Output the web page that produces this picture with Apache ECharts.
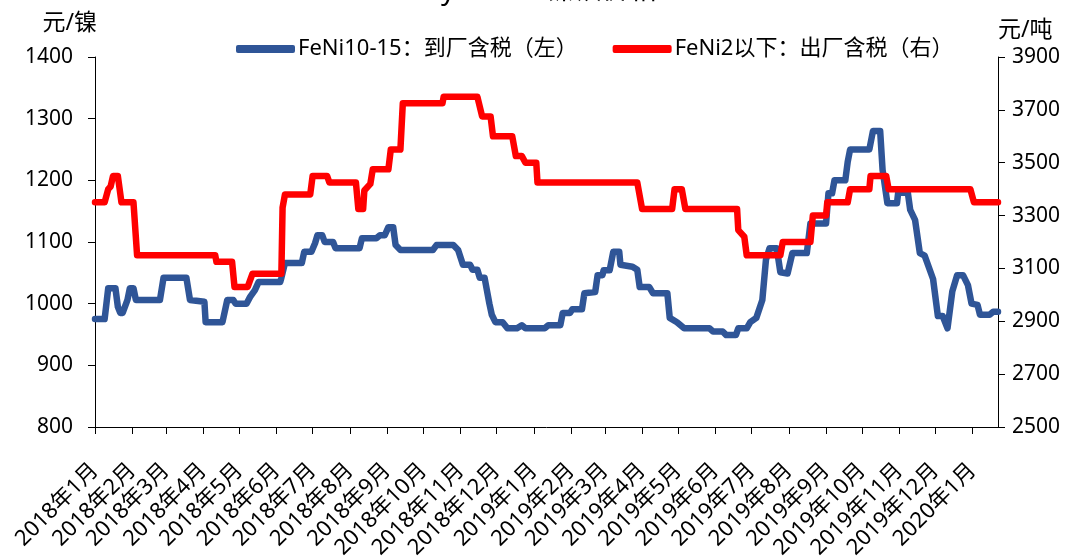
<!DOCTYPE html>
<html>
<head>
<meta charset="utf-8">
<script src="https://cdn.jsdelivr.net/npm/echarts@6/dist/echarts.min.js"></script>
<style>
html,body{margin:0;padding:0;background:#fff;}
#c{width:1073px;height:556px;}
</style>
</head>
<body>
<div id="c"></div>
<script>
// ---- data ----
const titleText = 'Mysteel：镍铁价格';
const blueName = 'FeNi10-15：到厂含税（左）';
const redName = 'FeNi2以下：出厂含税（右）';

const blueDates = ['2018-01-01','2018-01-09','2018-01-12','2018-01-18','2018-01-20','2018-01-22','2018-01-24','2018-01-28','2018-01-30','2018-02-02','2018-02-04','2018-02-24','2018-02-27','2018-03-18','2018-03-21','2018-04-02','2018-04-03','2018-04-17','2018-04-21','2018-04-26','2018-04-28','2018-05-07','2018-05-10','2018-05-14','2018-05-17','2018-06-04','2018-06-05','2018-06-08','2018-06-22','2018-06-24','2018-06-30','2018-07-03','2018-07-05','2018-07-09','2018-07-11','2018-07-18','2018-07-20','2018-08-09','2018-08-11','2018-08-23','2018-08-26','2018-08-30','2018-09-02','2018-09-06','2018-09-08','2018-09-12','2018-10-09','2018-10-12','2018-10-26','2018-10-30','2018-11-03','2018-11-09','2018-11-11','2018-11-15','2018-11-17','2018-11-21','2018-11-25','2018-11-27','2018-11-30','2018-12-06','2018-12-10','2018-12-18','2018-12-22','2018-12-25','2019-01-10','2019-01-13','2019-01-23','2019-01-25','2019-01-31','2019-02-02','2019-02-10','2019-02-12','2019-02-21','2019-02-23','2019-02-27','2019-02-28','2019-03-05','2019-03-08','2019-03-13','2019-03-14','2019-03-24','2019-03-28','2019-03-30','2019-04-07','2019-04-10','2019-04-22','2019-04-24','2019-04-30','2019-05-06','2019-05-27','2019-05-30','2019-06-07','2019-06-10','2019-06-18','2019-06-20','2019-06-27','2019-06-30','2019-07-05','2019-07-10','2019-07-13','2019-07-16','2019-07-22','2019-07-25','2019-07-31','2019-08-04','2019-08-16','2019-08-19','2019-09-01','2019-09-03','2019-09-06','2019-09-08','2019-09-17','2019-09-19','2019-09-21','2019-10-07','2019-10-10','2019-10-16','2019-10-18','2019-10-22','2019-10-30','2019-10-31','2019-11-08','2019-11-10','2019-11-14','2019-11-18','2019-11-22','2019-11-29','2019-12-03','2019-12-07','2019-12-11','2019-12-15','2019-12-19','2019-12-24','2019-12-28','2019-12-31','2020-01-05','2020-01-07','2020-01-15','2020-01-18','2020-01-22'];
const blueValues = [975,975,1025,1025,995,985,985,1006,1025,1025,1006,1006,1042,1042,1006,1003,970,970,1006,1006,1000,1000,1011,1022,1035,1035,1042,1066,1066,1084,1084,1098,1111,1111,1100,1100,1090,1090,1106,1106,1111,1111,1124,1124,1095,1087,1087,1095,1095,1087,1063,1063,1055,1055,1042,1042,1000,982,970,970,960,960,965,960,960,965,965,985,985,991,991,1017,1019,1046,1046,1054,1054,1084,1084,1063,1060,1055,1027,1027,1017,1017,977,970,960,960,955,955,949,949,960,960,970,977,1006,1071,1090,1090,1051,1049,1082,1082,1130,1130,1179,1179,1200,1200,1230,1250,1250,1280,1280,1217,1163,1163,1180,1180,1152,1136,1082,1078,1040,980,980,960,1020,1046,1046,1030,1000,998,982,982,987,987];

const redDates = ['2018-01-01','2018-01-09','2018-01-12','2018-01-14','2018-01-16','2018-01-20','2018-01-23','2018-02-02','2018-02-05','2018-04-11','2018-04-12','2018-04-25','2018-04-27','2018-05-08','2018-05-12','2018-06-05','2018-06-06','2018-06-08','2018-06-29','2018-07-01','2018-07-13','2018-07-15','2018-08-06','2018-08-08','2018-08-12','2018-08-13','2018-08-18','2018-08-20','2018-09-02','2018-09-04','2018-09-12','2018-09-14','2018-10-17','2018-10-18','2018-11-15','2018-11-19','2018-11-26','2018-11-28','2018-12-14','2018-12-17','2018-12-22','2018-12-25','2019-01-03','2019-01-04','2019-03-28','2019-04-01','2019-04-26','2019-04-28','2019-05-04','2019-05-07','2019-06-19','2019-06-20','2019-06-25','2019-06-27','2019-07-25','2019-07-27','2019-08-19','2019-08-21','2019-09-01','2019-09-02','2019-09-19','2019-09-21','2019-10-07','2019-10-08','2019-10-21','2019-10-23','2019-12-30','2020-01-02','2020-01-22'];
const redValues = [3350,3350,3400,3410,3450,3450,3350,3350,3150,3150,3125,3125,3030,3030,3080,3080,3330,3380,3380,3450,3450,3425,3425,3325,3325,3395,3420,3475,3475,3550,3550,3725,3725,3750,3750,3675,3675,3600,3600,3525,3525,3500,3500,3425,3425,3325,3325,3400,3400,3325,3325,3245,3220,3150,3150,3200,3200,3300,3300,3350,3350,3400,3400,3450,3450,3400,3400,3350,3350];

const tickDates = ['2018-01-01','2018-02-01','2018-03-01','2018-04-01','2018-05-01','2018-06-01','2018-07-01','2018-08-01','2018-09-01','2018-10-01','2018-11-01','2018-12-01','2019-01-01','2019-02-01','2019-03-01','2019-04-01','2019-05-01','2019-06-01','2019-07-01','2019-08-01','2019-09-01','2019-10-01','2019-11-01','2019-12-01','2020-01-01'];
const tickLabels = ['2018年1月','2018年2月','2018年3月','2018年4月','2018年5月','2018年6月','2018年7月','2018年8月','2018年9月','2018年10月','2018年11月','2018年12月','2019年1月','2019年2月','2019年3月','2019年4月','2019年5月','2019年6月','2019年7月','2019年8月','2019年9月','2019年10月','2019年11月','2019年12月','2020年1月'];
const xStart = '2018-01-01';
const xEnd = '2020-01-22';

// ---- chart ----
function ts(s){ return Date.UTC(+s.slice(0,4), +s.slice(5,7)-1, +s.slice(8,10)); }
const tickTimes = tickDates.map(ts);
const FONT = "'Noto Sans','Noto Sans CJK SC',sans-serif";
const blueData = blueDates.map((d,i)=>[ts(d), blueValues[i]]);
const redData = redDates.map((d,i)=>[ts(d), redValues[i]]);
const plain = v => String(v);

const chart = echarts.init(document.getElementById('c'), null, {renderer:'canvas'});
chart.setOption({
  backgroundColor:'#fff',
  animation:false,
  textStyle:{fontFamily:FONT},
  title:{text:titleText,left:'center',top:-28,textStyle:{fontSize:28,fontWeight:'normal',color:'#000',fontFamily:FONT}},
  legend:{
    left:236, top:38, padding:0, itemGap:35, itemWidth:59, itemHeight:8, icon:'roundRect',
    textStyle:{fontSize:22,color:'#000',fontFamily:FONT,padding:[0,0,0,-2]},
    data:[blueName, redName]
  },
  grid:{left:95,right:75,top:57,bottom:129,containLabel:false,outerBoundsMode:'none'},
  xAxis:{
    type:'value', min:ts(xStart), max:ts(xEnd), scale:true,
    axisLine:{show:true,onZero:false,lineStyle:{color:'#000',width:1}},
    axisTick:{show:true,length:7,lineStyle:{color:'#000'},customValues:tickTimes},
    axisLabel:{rotate:45,margin:40,fontSize:22,color:'#000',fontFamily:FONT,customValues:tickTimes,
      formatter:function(v){ const i = tickTimes.indexOf(v); return i>=0 ? tickLabels[i] : ''; }},
    splitLine:{show:false}
  },
  yAxis:[
    {type:'value',min:800,max:1400,interval:100,position:'left',
      name:'元/镍',nameLocation:'end',nameGap:34,
      nameTextStyle:{fontSize:23,color:'#000',align:'right',verticalAlign:'middle',padding:[0,-2,0,0],fontFamily:FONT},
      axisLine:{show:true,lineStyle:{color:'#000'}},axisTick:{show:true,length:7,lineStyle:{color:'#000'}},
      axisLabel:{fontSize:21,color:'#000',margin:22,fontFamily:FONT,formatter:plain},splitLine:{show:false}},
    {type:'value',min:2500,max:3900,interval:200,position:'right',
      name:'元/吨',nameLocation:'end',nameGap:27,
      nameTextStyle:{fontSize:23,color:'#000',align:'left',verticalAlign:'middle',padding:[0,0,0,0],fontFamily:FONT},
      axisLine:{show:true,lineStyle:{color:'#000'}},axisTick:{show:true,length:7,lineStyle:{color:'#000'}},
      axisLabel:{fontSize:21,color:'#000',margin:14,fontFamily:FONT,formatter:plain},splitLine:{show:false}}
  ],
  series:[
    {name:blueName,type:'line',yAxisIndex:0,data:blueData,showSymbol:false,symbol:'none',
      lineStyle:{color:'#2F5597',width:6.5,cap:'round',join:'round'},itemStyle:{color:'#2F5597'}},
    {name:redName,type:'line',yAxisIndex:1,data:redData,showSymbol:false,symbol:'none',
      lineStyle:{color:'#FF0000',width:6.5,cap:'round',join:'round'},itemStyle:{color:'#FF0000'}}
  ]
});
</script>
</body>
</html>
